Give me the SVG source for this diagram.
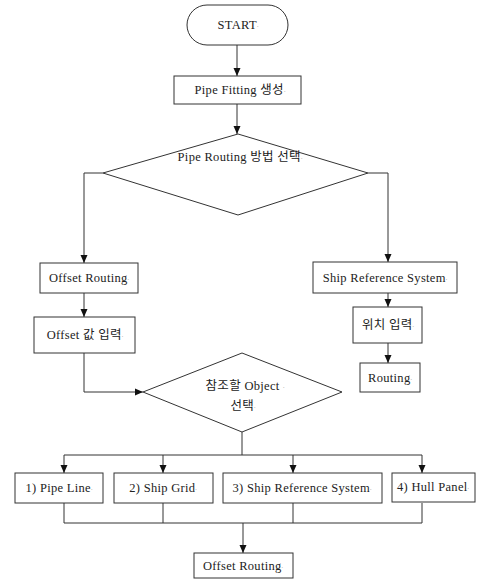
<svg xmlns="http://www.w3.org/2000/svg" width="478" height="580" viewBox="0 0 478 580">
<style>
.n{fill:#fff;stroke:#333;stroke-width:1}
.c{fill:none;stroke:#333;stroke-width:1}
text{font-family:"Liberation Serif","Noto Sans CJK KR",serif;font-size:12.5px;letter-spacing:0.3px;fill:#222;text-anchor:middle;dominant-baseline:central}
.m{font-size:6px;fill:#999;letter-spacing:0}
</style>
<defs>
<marker id="a" viewBox="0 0 8 8" refX="8" refY="4" markerWidth="8" markerHeight="8" orient="auto" markerUnits="userSpaceOnUse">
<path d="M0,0.5 L8,4 L0,7.5 Z" fill="#111"/>
</marker>
</defs>
<rect width="478" height="580" fill="#fff"/>
<g id="connectors">
<path class="c" d="M237,45 V76" marker-end="url(#a)"/>
<path class="c" d="M237,104 V134" marker-end="url(#a)"/>
<path class="c" d="M103,173 H84 V263" marker-end="url(#a)"/>
<path class="c" d="M368,173 H388 V262" marker-end="url(#a)"/>
<path class="c" d="M84,293 V317" marker-end="url(#a)"/>
<path class="c" d="M388,293 V307" marker-end="url(#a)"/>
<path class="c" d="M388,343 V363" marker-end="url(#a)"/>
<path class="c" d="M84,353 V392 H143" marker-end="url(#a)"/>
<path class="c" d="M242,432 V455"/>
<path class="c" d="M64,455 H422"/>
<path class="c" d="M64,455 V473" marker-end="url(#a)"/>
<path class="c" d="M163,455 V473" marker-end="url(#a)"/>
<path class="c" d="M293,455 V473" marker-end="url(#a)"/>
<path class="c" d="M422,455 V473" marker-end="url(#a)"/>
<path class="c" d="M64,503 V523 H422 V503 M163,503 V523 M293,503 V523"/>
<path class="c" d="M243,523 V553" marker-end="url(#a)"/>
</g>
<g id="start"><rect class="n" x="187" y="5" width="101" height="40" rx="20"/><text x="238" y="25">START<tspan class="m">.</tspan></text></g>
<g id="fitting"><rect class="n" x="174" y="76" width="127" height="28"/><text x="240" y="90">Pipe Fitting 생성<tspan class="m">.</tspan></text></g>
<g id="method"><polygon class="n" points="103,173 238,134 368,173 238,215"/><text x="240" y="157">Pipe Routing 방법 선택<tspan class="m">.</tspan></text></g>
<g id="offset"><rect class="n" x="40" y="263" width="98" height="30"/><text x="89" y="278">Offset Routing<tspan class="m">.</tspan></text></g>
<g id="offsetval"><rect class="n" x="34" y="317" width="101" height="36"/><text x="85" y="335">Offset 값 입력<tspan class="m">.</tspan></text></g>
<g id="srs"><rect class="n" x="313" y="262" width="144" height="31"/><text x="385" y="278">Ship Reference System<tspan class="m">.</tspan></text></g>
<g id="pos"><rect class="n" x="353" y="307" width="69" height="36"/><text x="388" y="325">위치 입력<tspan class="m">.</tspan></text></g>
<g id="routing"><rect class="n" x="360" y="363" width="60" height="29"/><text x="390" y="378">Routing<tspan class="m">.</tspan></text></g>
<g id="object"><polygon class="n" points="143,392 242,353 342,392 242,432"/><text x="245" y="386">참조할 Object <tspan class="m">.</tspan></text><text x="243" y="406">선택<tspan class="m">.</tspan></text></g>
<g id="pipeline"><rect class="n" x="15" y="473" width="88" height="30"/><text x="59" y="488">1) Pipe Line<tspan class="m">.</tspan></text></g>
<g id="grid"><rect class="n" x="114" y="473" width="99" height="30"/><text x="163" y="488">2) Ship Grid<tspan class="m">.</tspan></text></g>
<g id="srs2"><rect class="n" x="223" y="473" width="159" height="30"/><text x="302" y="488">3) Ship Reference System<tspan class="m">.</tspan></text></g>
<g id="hull"><rect class="n" x="392" y="473" width="83" height="29"/><text x="433" y="487">4) Hull Panel<tspan class="m">.</tspan></text></g>
<g id="offset2"><rect class="n" x="194" y="553" width="99" height="25"/><text x="243" y="566">Offset Routing<tspan class="m">.</tspan></text></g>
</svg>
